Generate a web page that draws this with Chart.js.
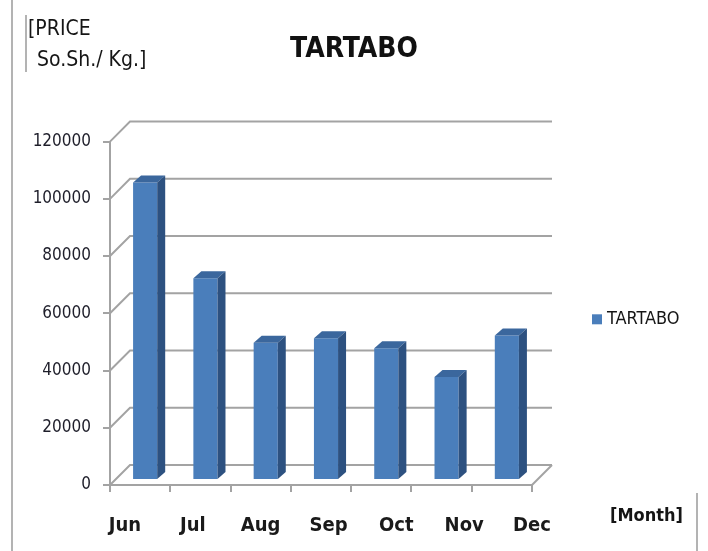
<!DOCTYPE html>
<html lang="en">
<head>
  <meta charset="UTF-8">
  <title>TARTABO - Price per Kg</title>
  <script src="https://cdn.jsdelivr.net/npm/chart.js"></script>
  <style>
    html, body { margin: 0; padding: 0; background: #fff; }
  </style>
</head>
<body>
  <canvas id="chart" width="708" height="551"></canvas>

  <script>
    // Data
    const months = ["Jun", "Jul", "Aug", "Sep", "Oct", "Nov", "Dec"];
    const prices = [104000, 70500, 48000, 49500, 46000, 36000, 50500];
    const seriesName = "TARTABO";
    const priceTicks = [0, 20000, 40000, 60000, 80000, 100000, 120000];

    const narrow = "'Liberation Sans Narrow', 'DejaVu Sans Condensed', sans-serif";
    const gridColor = "#a3a3a3";
    const frontColor = "#4a7ebb";
    const topColor = "#3b679d";
    const sideColor = "#2d5180";

    const DEPTH = 20;     // back wall offset
    const SHIFT = 5;      // bars stand a little behind the front edge
    const BAR_DX = 8, BAR_DY = 7;

    // back wall gridlines + 3D faces of the bars
    const wallPlugin = {
      id: "wall",
      beforeDatasetsDraw(chart) {
        const { ctx, chartArea: a, scales: { y } } = chart;
        ctx.save();
        ctx.strokeStyle = gridColor;
        ctx.lineWidth = 2;
        y.ticks.forEach(t => {
          const py = y.getPixelForValue(t.value);
          ctx.beginPath();
          ctx.moveTo(a.left, py);
          ctx.lineTo(a.left + DEPTH, py - DEPTH);
          ctx.lineTo(a.right + DEPTH, py - DEPTH);
          ctx.stroke();
        });
        ctx.beginPath();
        ctx.moveTo(a.right, a.bottom);
        ctx.lineTo(a.right + DEPTH, a.bottom - DEPTH);
        ctx.stroke();
        ctx.restore();

        ctx.save();
        ctx.translate(SHIFT, -SHIFT);
      },
      afterDatasetsDraw(chart) {
        const ctx = chart.ctx;
        chart.getDatasetMeta(0).data.forEach(bar => {
          const { x, y, base, width } = bar.getProps(["x", "y", "base", "width"], true);
          const l = x - width / 2, r = x + width / 2;
          ctx.fillStyle = topColor;
          ctx.beginPath();
          ctx.moveTo(l, y);
          ctx.lineTo(l + BAR_DX, y - BAR_DY);
          ctx.lineTo(r + BAR_DX, y - BAR_DY);
          ctx.lineTo(r, y);
          ctx.closePath();
          ctx.fill();
          ctx.fillStyle = sideColor;
          ctx.beginPath();
          ctx.moveTo(r, y);
          ctx.lineTo(r + BAR_DX, y - BAR_DY);
          ctx.lineTo(r + BAR_DX, base - BAR_DY);
          ctx.lineTo(r, base);
          ctx.closePath();
          ctx.fill();
        });
        ctx.restore();
      }
    };

    // axis captions, legend and the frame lines of the original picture
    const decorPlugin = {
      id: "decor",
      afterDraw(chart) {
        const { ctx, chartArea: a } = chart;
        ctx.save();
        ctx.strokeStyle = "#9a9a9a";
        ctx.lineWidth = 1.5;
        ctx.beginPath();
        ctx.moveTo(12, 0); ctx.lineTo(12, 551);
        ctx.moveTo(26, 15); ctx.lineTo(26, 72);
        ctx.moveTo(697, 493); ctx.lineTo(697, 551);
        ctx.stroke();

        ctx.fillStyle = "#151515";
        ctx.textBaseline = "alphabetic";
        ctx.textAlign = "left";
        ctx.font = "21px " + narrow;
        ctx.fillText("[PRICE", 28, 35);
        ctx.fillText("So.Sh./ Kg.]", 37, 66);

        ctx.font = "bold 18px " + narrow;
        ctx.textBaseline = "middle";
        ctx.fillText("[Month]", 610, 516);

        // legend
        const ds = chart.data.datasets[0];
        const lx = a.right + 60, ly = (a.top + a.bottom) / 2 + 6;
        ctx.fillStyle = ds.backgroundColor;
        ctx.fillRect(lx, ly - 5, 10, 10);
        ctx.fillStyle = "#151515";
        ctx.font = "18px " + narrow;
        ctx.fillText(ds.label, lx + 15, ly);
        ctx.restore();
      }
    };

    new Chart(document.getElementById("chart"), {
      type: "bar",
      data: {
        labels: months,
        datasets: [{
          label: seriesName,
          data: prices,
          backgroundColor: frontColor,
          barPercentage: 0.4,
          categoryPercentage: 1,
          clip: false
        }]
      },
      options: {
        responsive: false,
        animation: false,
        layout: { padding: 0 },
        plugins: {
          legend: { display: false },
          tooltip: { enabled: false },
          title: {
            display: true,
            text: seriesName,
            color: "#111",
            font: { family: narrow, size: 28, weight: "bold" },
            padding: { top: 33, bottom: 75 }
          }
        },
        scales: {
          x: {
            position: "bottom",
            offset: true,
            grid: { display: true, drawOnChartArea: false, drawTicks: true, tickLength: 7, color: gridColor, lineWidth: 2, offset: true },
            border: { display: true, color: gridColor, width: 2 },
            ticks: { display: false },
            afterFit: s => { s.height = 8; }
          },
          // month labels sit a little wider apart than the bars in the original
          xl: {
            type: "linear",
            position: "bottom",
            offset: false,
            min: -0.221,
            max: months.length - 1,
            grid: { display: false, drawTicks: false, offset: false },
            border: { display: false },
            ticks: {
              stepSize: 1,
              includeBounds: false,
              autoSkip: false,
              maxRotation: 0,
              padding: 21,
              color: "#1a1a1a",
              font: { family: narrow, size: 20, weight: "bold" },
              callback: v => Number.isInteger(v) ? months[v] : null
            },
            afterFit: s => { s.height = 58; }
          },
          y: {
            min: priceTicks[0],
            max: priceTicks[priceTicks.length - 1],
            grid: { display: true, drawOnChartArea: false, drawTicks: true, tickLength: 7, color: gridColor, lineWidth: 2 },
            border: { display: true, color: gridColor, width: 2 },
            ticks: {
              stepSize: priceTicks[1] - priceTicks[0],
              padding: 12,
              color: "#1e1e2a",
              font: { family: narrow, size: 17 },
              format: { useGrouping: false }
            },
            afterFit: s => { s.width = 110; }
          },
          yr: {
            type: "linear",
            position: "right",
            display: true,
            grid: { display: false },
            border: { display: false },
            ticks: { display: false },
            afterFit: s => { s.width = 176; }
          }
        }
      },
      plugins: [wallPlugin, decorPlugin]
    });
  </script>
</body>
</html>
